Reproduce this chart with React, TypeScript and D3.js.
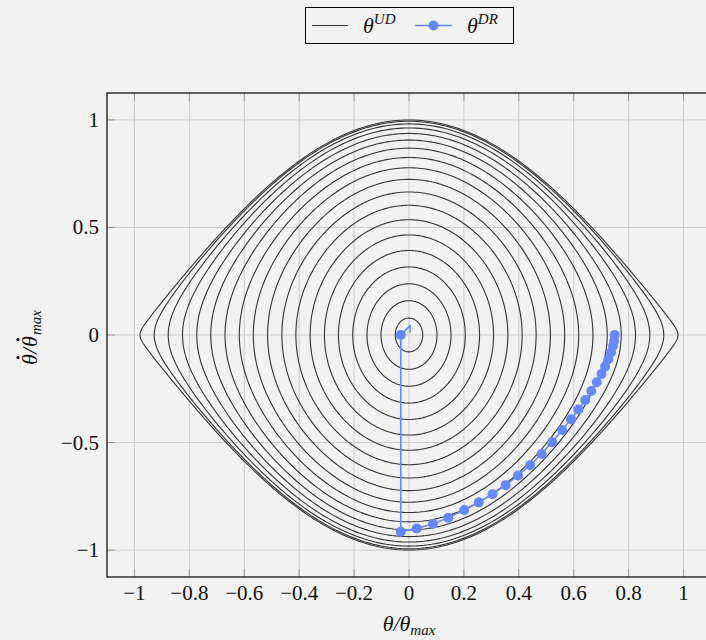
import React from 'react';
import * as d3 from 'd3';

// Amplitudes (θ/θmax at θ̇ = 0) of the closed θ^UD orbits
const udAmplitudes = [0.05, 0.102, 0.153, 0.205, 0.257, 0.308, 0.36, 0.412, 0.463, 0.515, 0.567, 0.618, 0.67, 0.722, 0.773, 0.825, 0.877, 0.928, 0.98];

// θ^DR trajectory (marked points)
const drX = [0.749, 0.747, 0.743, 0.736, 0.726, 0.714, 0.701, 0.684, 0.664, 0.642, 0.617, 0.590, 0.558, 0.521, 0.483, 0.441, 0.397, 0.352, 0.304, 0.254, 0.201, 0.143, 0.087, 0.028, -0.030, -0.030];
const drY = [0.0, -0.028, -0.051, -0.080, -0.113, -0.147, -0.181, -0.220, -0.260, -0.302, -0.346, -0.392, -0.442, -0.498, -0.553, -0.605, -0.653, -0.698, -0.740, -0.778, -0.814, -0.850, -0.879, -0.899, -0.915, 0.0];
// small unmarked hook at the end of the trajectory
const hookX = [-0.030, 0.0, 0.004, 0.004];
const hookY = [0.0, 0.039, 0.045, 0.011];

const xTicks = [-1, -0.8, -0.6, -0.4, -0.2, 0, 0.2, 0.4, 0.6, 0.8, 1];
const yTicks = [-1, -0.5, 0, 0.5, 1];

const W = 706;
const H = 640;
const BG = '#f2f2f2';
const BLUE = '#6688ff';
const INK = '#111111';
const FONT = "'Liberation Serif', 'DejaVu Serif', serif";

const left = 107, right = 711, top = 93, bottom = 577;
const x = d3.scaleLinear().domain([-1.1, 1.1]).range([left, right]);
const y = d3.scaleLinear().domain([-1.125, 1.125]).range([bottom, top]);

function orbitPoints(a: number): [number, number][] {
  const pts: [number, number][] = [];
  const n = 400;
  const ca = Math.cos(Math.PI * a);
  for (let i = 0; i <= n; i++) {
    const phi = (2 * Math.PI * i) / n;
    const xv = a * Math.cos(phi);
    const v = Math.sqrt(Math.max(0, (Math.cos(Math.PI * xv) - ca) / 2));
    const s = Math.sin(phi) >= 0 ? 1 : -1;
    pts.push([xv, s * v]);
  }
  return pts;
}

const fmt = (d: number) => String(d).replace('-', '\u2212');

export default function App() {
  const line = d3.line<[number, number]>().x(d => x(d[0])).y(d => y(d[1]));
  const drPts: [number, number][] = drX.map((v, i) => [v, drY[i]]);
  const hookPts: [number, number][] = hookX.map((v, i) => [v, hookY[i]]);
  const tickLen = 8;
  return (
    <svg width={W} height={H} style={{ position: 'absolute', left: 0, top: 0, display: 'block' }}>
      <rect x={0} y={0} width={W} height={H} fill={BG} />
      <defs>
        <clipPath id="plotClip">
          <rect x={left} y={top} width={right - left} height={bottom - top} />
        </clipPath>
      </defs>
      {/* grid */}
      <g stroke="#cccccc" strokeWidth={1}>
        {xTicks.map(t => (
          <line key={'gx' + t} x1={x(t)} x2={x(t)} y1={top} y2={bottom} />
        ))}
        {yTicks.map(t => (
          <line key={'gy' + t} x1={left} x2={right} y1={y(t)} y2={y(t)} />
        ))}
      </g>
      {/* ticks */}
      <g stroke="#999999" strokeWidth={1}>
        {xTicks.map(t => (
          <g key={'tx' + t}>
            <line x1={x(t)} x2={x(t)} y1={bottom} y2={bottom - tickLen} />
            <line x1={x(t)} x2={x(t)} y1={top} y2={top + tickLen} />
          </g>
        ))}
        {yTicks.map(t => (
          <line key={'ty' + t} x1={left} x2={left + tickLen} y1={y(t)} y2={y(t)} />
        ))}
      </g>
      <g clipPath="url(#plotClip)">
        {udAmplitudes.map(a => (
          <path key={'ud' + a} d={line(orbitPoints(a)) || ''} fill="none" stroke="#333333" strokeWidth={1.1} />
        ))}
        <path d={line(drPts) || ''} fill="none" stroke={BLUE} strokeWidth={1.6} />
        <path d={line(hookPts) || ''} fill="none" stroke={BLUE} strokeWidth={1.6} strokeLinejoin="round" />
        {drPts.map((p, i) => (
          <circle key={'dr' + i} cx={x(p[0])} cy={y(p[1])} r={5} fill={BLUE} />
        ))}
      </g>
      {/* axis box */}
      <rect x={left} y={top} width={right - left} height={bottom - top} fill="none" stroke="#000" strokeWidth={1.2} />
      {/* tick labels */}
      <g fontFamily={FONT} fontSize={21} fill={INK}>
        {xTicks.map(t => (
          <text key={'lx' + t} x={x(t)} y={600} textAnchor="middle">{fmt(t)}</text>
        ))}
        {yTicks.map(t => (
          <text key={'ly' + t} x={99} y={y(t) + 7} textAnchor="end">{fmt(t)}</text>
        ))}
      </g>
      {/* axis labels */}
      <text x={409} y={631} textAnchor="middle" fontFamily={FONT} fontSize={22} fontStyle="italic" fill={INK}>
        θ/θ<tspan fontSize={15} dy={4}>max</tspan>
      </text>
      <g transform="translate(37,335) rotate(-90)" fontFamily={FONT} fontSize={22} fontStyle="italic" fill={INK}>
        <text x={-30} y={0}>θ</text>
        <circle cx={-22.5} cy={-19} r={1.6} fill={INK} />
        <text x={-19} y={0}>/</text>
        <text x={-12} y={0}>θ</text>
        <circle cx={-4.5} cy={-19} r={1.6} fill={INK} />
        <text x={0} y={4} fontSize={15}>max</text>
      </g>
      {/* legend */}
      <g>
        <rect x={305.5} y={7.5} width={208} height={36} fill={BG} stroke="#000" strokeWidth={1} />
        <line x1={312} x2={348} y1={25.5} y2={25.5} stroke="#333333" strokeWidth={1.1} />
        <text x={363} y={33} fontFamily={FONT} fontSize={22} fontStyle="italic" fill={INK}>
          θ<tspan fontSize={15} dy={-9}>UD</tspan>
        </text>
        <line x1={415} x2={452} y1={25.5} y2={25.5} stroke={BLUE} strokeWidth={1.6} />
        <circle cx={433.5} cy={25.5} r={5} fill={BLUE} />
        <text x={467} y={33} fontFamily={FONT} fontSize={22} fontStyle="italic" fill={INK}>
          θ<tspan fontSize={15} dy={-9}>DR</tspan>
        </text>
      </g>
    </svg>
  );
}
